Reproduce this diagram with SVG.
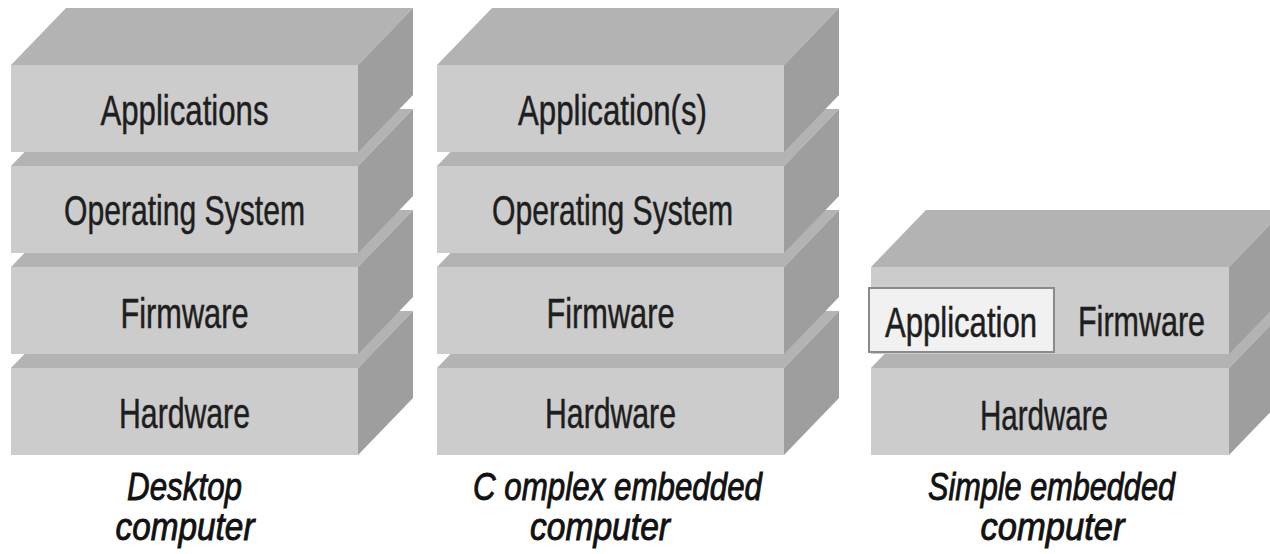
<svg xmlns="http://www.w3.org/2000/svg" width="1270" height="554" viewBox="0 0 1270 554">
  <style>
    .top { fill: #b3b3b3; }
    .side { fill: #9e9e9e; }
    .front { fill: #cccccc; }
    .lbl { font-family: "Liberation Sans", Arial, sans-serif; font-size: 42px; fill: #1e1e1e; stroke: #1e1e1e; stroke-width: 0.5; text-anchor: middle; }
    .cap { font-family: "Liberation Sans", Arial, sans-serif; font-size: 39px; font-style: italic; fill: #111; stroke: #111; stroke-width: 0.9; text-anchor: middle; }
    .appbox { fill: #f1f1f1; stroke: #8a8a8a; stroke-width: 2; }
  </style>

  <rect width="1270" height="554" fill="#ffffff"/>

  <!-- Desktop computer stack (drawn bottom layer first) -->
  <g id="desktop">
    <g id="desktop-hardware">
      <polygon class="top" points="11,368 66,311 413,311 358,368"/>
      <polygon class="side" points="358,368 413,311 413,398 358,455"/>
      <rect class="front" x="11" y="368" width="347" height="87"/>
      <text class="lbl" x="184.5" y="428" textLength="131" lengthAdjust="spacingAndGlyphs">Hardware</text>
    </g>
    <g id="desktop-firmware">
      <polygon class="top" points="11,267 66,210 413,210 358,267"/>
      <polygon class="side" points="358,267 413,210 413,297 358,354"/>
      <rect class="front" x="11" y="267" width="347" height="87"/>
      <text class="lbl" x="184.5" y="328" textLength="128" lengthAdjust="spacingAndGlyphs">Firmware</text>
    </g>
    <g id="desktop-os">
      <polygon class="top" points="11,166 66,109 413,109 358,166"/>
      <polygon class="side" points="358,166 413,109 413,196 358,253"/>
      <rect class="front" x="11" y="166" width="347" height="87"/>
      <text class="lbl" x="184.5" y="225" textLength="241" lengthAdjust="spacingAndGlyphs">Operating System</text>
    </g>
    <g id="desktop-applications">
      <polygon class="top" points="11,65 66,8 413,8 358,65"/>
      <polygon class="side" points="358,65 413,8 413,95 358,152"/>
      <rect class="front" x="11" y="65" width="347" height="87"/>
      <text class="lbl" x="184.5" y="125" textLength="168" lengthAdjust="spacingAndGlyphs">Applications</text>
    </g>
    <text class="cap" x="184.5" y="500" textLength="115" lengthAdjust="spacingAndGlyphs">Desktop</text>
    <text class="cap" x="185" y="540" textLength="139" lengthAdjust="spacingAndGlyphs">computer</text>
  </g>

  <!-- Complex embedded computer stack -->
  <g id="complex">
    <g id="complex-hardware">
      <polygon class="top" points="437,368 492,311 839,311 784,368"/>
      <polygon class="side" points="784,368 839,311 839,398 784,455"/>
      <rect class="front" x="437" y="368" width="347" height="87"/>
      <text class="lbl" x="610.5" y="428" textLength="131" lengthAdjust="spacingAndGlyphs">Hardware</text>
    </g>
    <g id="complex-firmware">
      <polygon class="top" points="437,267 492,210 839,210 784,267"/>
      <polygon class="side" points="784,267 839,210 839,297 784,354"/>
      <rect class="front" x="437" y="267" width="347" height="87"/>
      <text class="lbl" x="610.5" y="328" textLength="128" lengthAdjust="spacingAndGlyphs">Firmware</text>
    </g>
    <g id="complex-os">
      <polygon class="top" points="437,166 492,109 839,109 784,166"/>
      <polygon class="side" points="784,166 839,109 839,196 784,253"/>
      <rect class="front" x="437" y="166" width="347" height="87"/>
      <text class="lbl" x="612.5" y="225" textLength="241" lengthAdjust="spacingAndGlyphs">Operating System</text>
    </g>
    <g id="complex-applications">
      <polygon class="top" points="437,65 492,8 839,8 784,65"/>
      <polygon class="side" points="784,65 839,8 839,95 784,152"/>
      <rect class="front" x="437" y="65" width="347" height="87"/>
      <text class="lbl" x="612.5" y="125" textLength="189" lengthAdjust="spacingAndGlyphs">Application(s)</text>
    </g>
    <text class="cap" x="617.5" y="500" textLength="289" lengthAdjust="spacingAndGlyphs">C omplex embedded</text>
    <text class="cap" x="600" y="540" textLength="140" lengthAdjust="spacingAndGlyphs">computer</text>
  </g>

  <!-- Simple embedded computer stack -->
  <g id="simple">
    <g id="simple-hardware">
      <polygon class="top" points="871,368 926,311 1284,311 1229,368"/>
      <polygon class="side" points="1229,368 1284,311 1284,398 1229,455"/>
      <rect class="front" x="871" y="368" width="358" height="87"/>
      <text class="lbl" x="1044" y="430" textLength="128" lengthAdjust="spacingAndGlyphs">Hardware</text>
    </g>
    <g id="simple-firmware">
      <polygon class="top" points="871,267 926,210 1284,210 1229,267"/>
      <polygon class="side" points="1229,267 1284,210 1284,297 1229,354"/>
      <rect class="front" x="871" y="267" width="358" height="87"/>
      <text class="lbl" x="1141.5" y="336" textLength="127" lengthAdjust="spacingAndGlyphs">Firmware</text>
    </g>
    <g id="simple-application">
      <rect class="appbox" x="869" y="288" width="185" height="64"/>
      <text class="lbl" x="961" y="337" textLength="152" lengthAdjust="spacingAndGlyphs">Application</text>
    </g>
    <text class="cap" x="1051.5" y="500" textLength="247" lengthAdjust="spacingAndGlyphs">Simple embedded</text>
    <text class="cap" x="1052.5" y="540" textLength="144" lengthAdjust="spacingAndGlyphs">computer</text>
  </g>
</svg>
